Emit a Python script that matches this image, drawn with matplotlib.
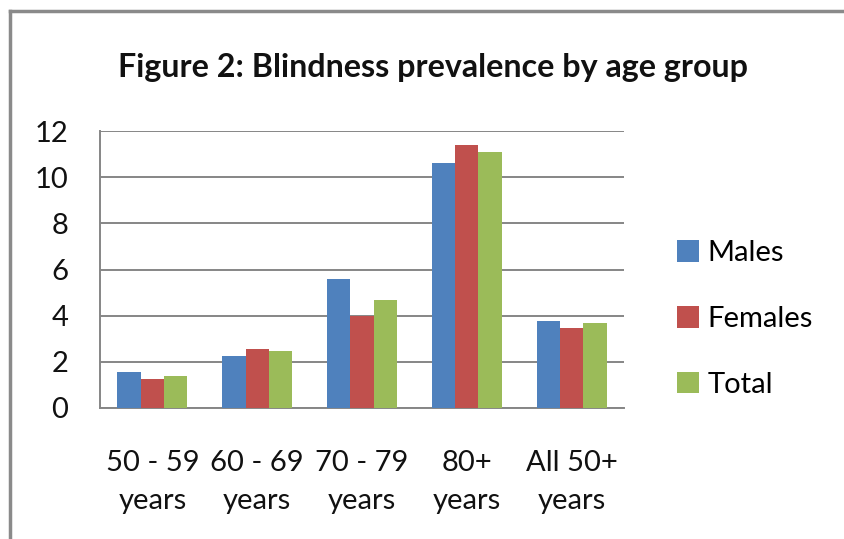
import matplotlib
matplotlib.use("Agg")
import matplotlib.pyplot as plt
from matplotlib.lines import Line2D
import numpy as np

# Blindness prevalence (%) by age group
categories = ["50 - 59\nyears", "60 - 69\nyears", "70 - 79\nyears", "80+\nyears", "All 50+\nyears"]
males = [1.55, 2.25, 5.6, 10.6, 3.78]
females = [1.25, 2.55, 4.0, 11.4, 3.47]
total = [1.4, 2.48, 4.68, 11.1, 3.7]
series_names = ["Males", "Females", "Total"]
colors = ["#4F81BD", "#C0504D", "#9BBB59"]
yticks = [0, 2, 4, 6, 8, 10, 12]

plt.rcParams["font.family"] = ["Lato", "DejaVu Sans"]

fig = plt.figure(figsize=(8.45, 5.39), dpi=100)
ax = fig.add_axes([100 / 845, 1 - 408 / 539, 524 / 845, 277 / 539])

x = np.arange(len(categories))
width = 1 / 4.5
series = [males, females, total]
for i, (vals, name, col) in enumerate(zip(series, series_names, colors)):
    ax.bar(x + (i - 1) * width, vals, width, color=col, label=name, zorder=3)

ax.set_xlim(-0.5, len(categories) - 0.5)
ax.set_ylim(0, 12)
ax.set_yticks(yticks)
ax.set_yticklabels([str(v) for v in yticks])
ax.set_xticks(x)
ax.set_xticklabels(categories, linespacing=1.6)

grid_col = "#868686"
ax.yaxis.grid(True, color=grid_col, linewidth=1.4, zorder=0)
for side in ["top", "right"]:
    ax.spines[side].set_visible(False)
for side in ["left", "bottom"]:
    ax.spines[side].set_color(grid_col)
    ax.spines[side].set_linewidth(1.4)
ax.tick_params(axis="both", length=0, labelsize=21, colors="#111111")
ax.tick_params(axis="y", pad=23)
ax.tick_params(axis="x", pad=30)

fig.text(433 / 845, 1 - 67 / 539, "Figure 2: Blindness prevalence by age group",
         ha="center", va="center", fontsize=23.2, fontweight="bold", color="#111111")

ax.legend(loc="center left", bbox_to_anchor=(665 / 845, 1 - 319 / 539),
          bbox_transform=fig.transFigure, frameon=False, fontsize=21,
          handlelength=0.75, handleheight=0.75, handletextpad=0.3,
          labelspacing=1.36, borderaxespad=0)

# chart area border
border = "#8A8A8A"
fig.add_artist(Line2D([10 / 845, 10 / 845], [0, 1 - 11 / 539], transform=fig.transFigure,
                      color=border, linewidth=2.5))
fig.add_artist(Line2D([10 / 845, 1], [1 - 11 / 539, 1 - 11 / 539], transform=fig.transFigure,
                      color=border, linewidth=2.5))

fig.savefig("out.png", dpi=100)
